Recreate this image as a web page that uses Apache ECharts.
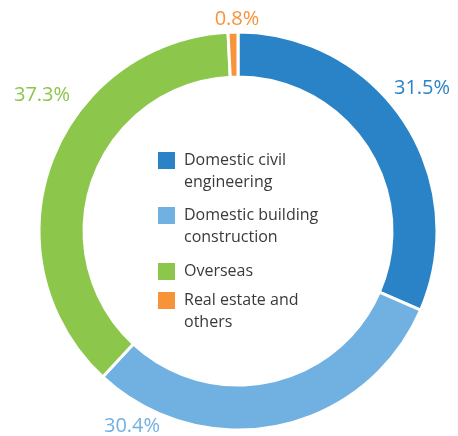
<!DOCTYPE html>
<html>
<head>
<meta charset="utf-8">
<script src="https://cdn.jsdelivr.net/npm/echarts@6/dist/echarts.min.js"></script>
<style>
html,body{margin:0;padding:0;background:#fff;}
#chart{width:458px;height:436px;}
</style>
</head>
<body>
<div id="chart"></div>
<script>
// Data
var categories = ['Domestic civil engineering', 'Domestic building construction', 'Overseas', 'Real estate and others'];
var legendLines = [['Domestic civil', 'engineering'], ['Domestic building', 'construction'], ['Overseas'], ['Real estate and', 'others']];
var shares = [31.5, 30.4, 37.3, 0.8];
var colors = ['#2a83c7', '#71b1e1', '#8cc64b', '#f7943a'];

// Styling / placement (not data)
var labelPos = [[422, 88], [132, 426], [42, 95], [237, 19]];
var legendTop = [152, 207, 263, 292];

var chart = echarts.init(document.getElementById('chart'), null, {renderer: 'canvas'});

var graphics = [];
categories.forEach(function (c, i) {
  graphics.push({
    type: 'rect', left: 158, top: legendTop[i],
    shape: {width: 17, height: 17},
    style: {fill: colors[i]}
  });
  graphics.push({
    type: 'text', left: 184, top: legendTop[i] - 3,
    style: {
      text: legendLines[i].join('\n'),
      font: '16px "Open Sans", sans-serif',
      lineHeight: 22,
      fill: '#3a3a3a'
    }
  });
});

chart.setOption({
  animation: false,
  series: [{
    type: 'pie',
    center: [238, 231],
    radius: [154, 199],
    startAngle: 90,
    clockwise: true,
    avoidLabelOverlap: false,
    itemStyle: {borderColor: '#fff', borderWidth: 3},
    label: {
      show: true,
      position: 'outside',
      formatter: function (p) { return p.value.toFixed(1) + '%'; },
      fontSize: 20,
      fontFamily: 'Open Sans',
      fontWeight: 'normal'
    },
    labelLine: {show: false},
    labelLayout: function (params) {
      var p = labelPos[params.dataIndex];
      return {x: p[0], y: p[1], align: 'center', verticalAlign: 'middle'};
    },
    data: categories.map(function (c, i) {
      return {
        name: c, value: shares[i],
        itemStyle: {color: colors[i]},
        label: {color: colors[i]}
      };
    })
  }],
  graphic: graphics
});
</script>
</body>
</html>
